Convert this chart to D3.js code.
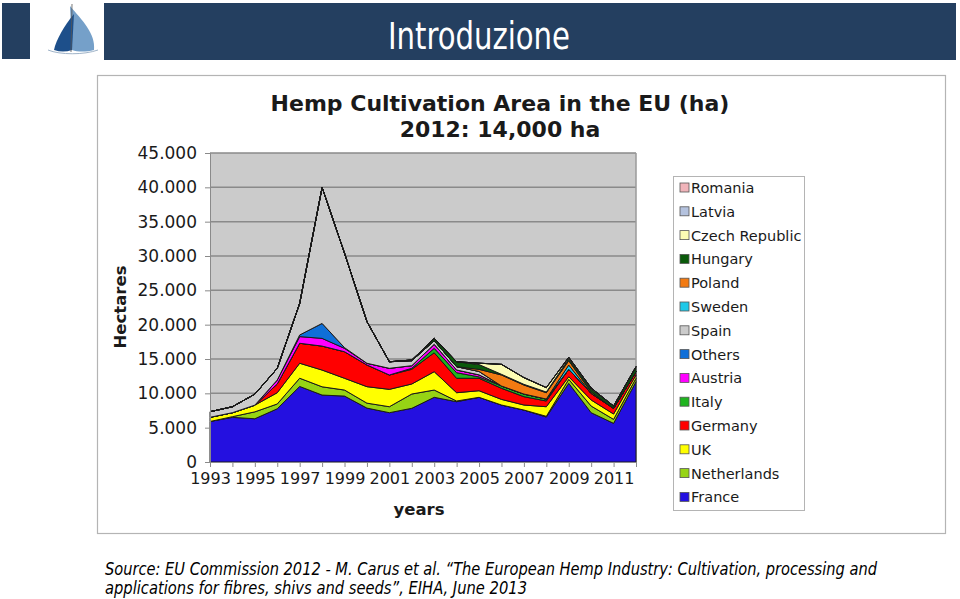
<!DOCTYPE html>
<html>
<head>
<meta charset="utf-8">
<script src="https://cdn.jsdelivr.net/npm/d3@7"></script>
<style>
  html, body { margin: 0; padding: 0; background: #ffffff; }
  svg { display: block; }
</style>
</head>
<body>
<svg id="chart" width="960" height="599"></svg>
<script>
// ---------------- DATA ----------------
const years = [1993,1994,1995,1996,1997,1998,1999,2000,2001,2002,2003,2004,2005,2006,2007,2008,2009,2010,2011,2012];
const france       = [5900,6500,6300,7750,11000,9750,9600,7850,7180,7820,9420,8780,9420,8300,7570,6550,11460,7180,5630,11690];
const netherlands  = [0,100,1000,700,1200,1200,880,720,870,2080,1060,100,0,0,0,100,580,970,580,500];
const uk           = [610,580,980,1640,2180,2440,1710,2400,2530,1460,2670,1210,960,820,730,1400,380,880,780,480];
const germany      = [0,0,0,1270,2910,3490,3870,3160,2090,2140,2760,2100,1810,1610,1210,830,1080,970,830,480];
const italy        = [0,0,0,0,0,0,0,0,0,150,640,810,200,340,390,290,0,0,0,0];
const austria      = [0,0,0,580,970,1120,490,250,970,380,590,400,300,0,0,0,0,0,0,0];
const others       = [0,0,0,0,240,2180,100,0,0,0,0,0,0,0,0,0,0,0,0,0];
const spain        = [810,870,1600,1700,4600,19810,13750,6060,960,720,520,480,500,0,0,0,0,0,0,0];
const sweden       = [0,0,0,0,0,0,0,0,0,0,0,0,0,0,0,0,620,0,0,0];
const poland       = [0,0,0,0,0,0,0,0,0,0,0,0,300,1600,1310,920,630,200,0,0];
const hungary      = [0,0,0,0,0,0,0,0,0,100,340,720,700,100,100,100,300,380,330,730];
const czech        = [0,0,0,0,0,0,0,0,0,0,0,0,200,1450,980,640,200,200,0,0];
const latvia       = [0,0,0,0,0,0,0,0,0,0,0,0,0,0,0,0,0,0,0,0];
const romania      = [0,0,0,0,0,0,0,0,0,0,0,0,0,0,0,0,0,0,0,0];

// stack order (bottom -> top)
const seriesNames  = ["France","Netherlands","UK","Germany","Italy","Austria","Others","Spain","Sweden","Poland","Hungary","Czech Republic","Latvia","Romania"];
const seriesValues = [france,netherlands,uk,germany,italy,austria,others,spain,sweden,poland,hungary,czech,latvia,romania];
const seriesColors = ["#2410e0","#96d414","#ffff00","#ff0000","#1fb41f","#ff00ff","#0f6fd8","#cbcbcb","#1ec8e8","#f27a12","#0b5a0b","#fcfcb4","#b4c2de","#f0b4ba"];

const yTicks      = [0,5000,10000,15000,20000,25000,30000,35000,40000,45000];
const yTickLabels = ["0","5.000","10.000","15.000","20.000","25.000","30.000","35.000","40.000","45.000"];
const xTickLabels = [1993,1995,1997,1999,2001,2003,2005,2007,2009,2011];

const titleText   = "Introduzione";
const chartTitle1 = "Hemp Cultivation Area in the EU (ha)";
const chartTitle2 = "2012: 14,000 ha";
const yAxisTitle  = "Hectares";
const xAxisTitle  = "years";
const sourceLine1 = "Source: EU Commission 2012 - M. Carus et al. \u201CThe European Hemp Industry: Cultivation, processing and";
const sourceLine2 = "applications for fibres, shivs and seeds\u201D, EIHA, June 2013";

// ---------------- DRAW ----------------
const svg = d3.select("#chart");

// header
svg.append("rect").attr("x",2).attr("y",3).attr("width",28).attr("height",56).attr("fill","#243f60");
svg.append("rect").attr("x",104).attr("y",3).attr("width",852).attr("height",57).attr("fill","#243f60");
svg.append("text").attr("x",388).attr("y",49)
  .attr("font-family","'DejaVu Sans Condensed','Liberation Sans Narrow',sans-serif")
  .attr("font-size",37).attr("fill","#ffffff")
  .attr("textLength",182).attr("lengthAdjust","spacingAndGlyphs").text(titleText);

// logo (sail)
const logo = svg.append("g");
logo.append("path").attr("d","M70,6 C82,20 96,34 94,50 C86,52 78,52 72,50 Z").attr("fill","#5d8fbf").attr("opacity",0.85);
logo.append("path").attr("d","M74,14 C64,26 56,40 54,50 C60,52 66,52 72,50 Z").attr("fill","#1d4f8a");
logo.append("path").attr("d","M72,4 L71,52").attr("stroke","#555").attr("stroke-width",0.8);
logo.append("path").attr("d","M48,50 C60,55 84,55 98,50").attr("stroke","#9fb3c8").attr("stroke-width",1).attr("fill","none");

// chart frame
svg.append("rect").attr("x",97.5).attr("y",75.5).attr("width",848).attr("height",458)
  .attr("fill","#ffffff").attr("stroke","#b4b4b4").attr("stroke-width",1.2);

const fontChart = "'DejaVu Sans',Verdana,sans-serif";
svg.append("text").attr("x",500).attr("y",111).attr("text-anchor","middle")
  .attr("font-family",fontChart).attr("font-weight","bold").attr("font-size",22).attr("fill","#1a1a1a").text(chartTitle1);
svg.append("text").attr("x",500).attr("y",137).attr("text-anchor","middle")
  .attr("font-family",fontChart).attr("font-weight","bold").attr("font-size",22).attr("fill","#1a1a1a").text(chartTitle2);

// plot area
const plot = {left:210, right:636, top:153, bottom:462};
const x = d3.scaleLinear().domain([years[0], years[years.length-1]]).range([plot.left, plot.right]);
const y = d3.scaleLinear().domain([0,45000]).range([plot.bottom, plot.top]);

svg.append("rect").attr("x",plot.left).attr("y",plot.top).attr("width",plot.right-plot.left).attr("height",plot.bottom-plot.top)
  .attr("fill","#cbcbcb");

// gridlines
svg.append("g").selectAll("line").data(yTicks.slice(1)).join("line")
  .attr("x1",plot.left).attr("x2",plot.right)
  .attr("y1",d=>y(d)).attr("y2",d=>y(d))
  .attr("stroke","#8a8a8a").attr("stroke-width",1.5);
svg.append("line").attr("x1",plot.right).attr("x2",plot.right).attr("y1",plot.top).attr("y2",plot.bottom)
  .attr("stroke","#9a9a9a").attr("stroke-width",1.5);

// stacked areas
const table = years.map((yr,i)=>{
  const row = {year: yr};
  seriesNames.forEach((n,k)=>{ row[n] = seriesValues[k][i]; });
  return row;
});
const stack = d3.stack().keys(seriesNames);
const layers = stack(table);
const area = d3.area()
  .x(d=>x(d.data.year))
  .y0(d=>y(d[0]))
  .y1(d=>y(d[1]));
svg.append("g").selectAll("path").data(layers).join("path")
  .attr("d",area)
  .attr("fill",(d,i)=>seriesColors[i])
  .attr("stroke","#1a1a1a").attr("stroke-width",1).attr("stroke-linejoin","round");

// axes
const yAxis = d3.axisLeft(y).tickValues(yTicks).tickFormat((d,i)=>yTickLabels[i]).tickSize(5).tickPadding(8);
const gy = svg.append("g").attr("transform",`translate(${plot.left},0)`).call(yAxis);
gy.select(".domain").attr("stroke","#8a8a8a");
gy.selectAll(".tick line").attr("stroke","#8a8a8a");
gy.selectAll("text").attr("font-family",fontChart).attr("font-size",17).attr("fill","#1a1a1a");

const xAxis = d3.axisBottom(x).tickValues(years).tickFormat(d=>xTickLabels.includes(d)?String(d):"").tickSize(5).tickPadding(6);
const gx = svg.append("g").attr("transform",`translate(0,${plot.bottom})`).call(xAxis);
gx.select(".domain").attr("stroke","#8a8a8a");
gx.selectAll(".tick line").attr("stroke","#8a8a8a");
gx.selectAll("text").attr("font-family",fontChart).attr("font-size",16).attr("fill","#1a1a1a");

svg.append("text").attr("transform","translate(126,307) rotate(-90)").attr("text-anchor","middle")
  .attr("font-family",fontChart).attr("font-weight","bold").attr("font-size",16.5).attr("fill","#1a1a1a").text(yAxisTitle);
svg.append("text").attr("x",419).attr("y",515).attr("text-anchor","middle")
  .attr("font-family",fontChart).attr("font-weight","bold").attr("font-size",16.5).attr("fill","#1a1a1a").text(xAxisTitle);

// legend
const legend = svg.append("g");
legend.append("rect").attr("x",673.5).attr("y",176.5).attr("width",131).attr("height",334)
  .attr("fill","#ffffff").attr("stroke","#b4b4b4").attr("stroke-width",1);
const legendOrder = seriesNames.map((n,i)=>i).reverse();
const li = legend.selectAll("g.item").data(legendOrder).join("g").attr("class","item")
  .attr("transform",(d,k)=>`translate(680,${188 + k*23.8})`);
li.append("rect").attr("x",0).attr("y",-5).attr("width",9).attr("height",9)
  .attr("fill",d=>seriesColors[d]).attr("stroke","#555").attr("stroke-width",0.8);
li.append("text").attr("x",11).attr("y",5).attr("font-family",fontChart).attr("font-size",14.5).attr("fill","#1a1a1a")
  .text(d=>seriesNames[d]);

// source
const fontSrc = "'DejaVu Sans Condensed','Liberation Sans Narrow',sans-serif";
svg.append("text").attr("x",105).attr("y",575).attr("font-family",fontSrc).attr("font-style","italic")
  .attr("font-size",17).attr("fill","#000").attr("textLength",772).attr("lengthAdjust","spacingAndGlyphs").text(sourceLine1);
svg.append("text").attr("x",105).attr("y",594).attr("font-family",fontSrc).attr("font-style","italic")
  .attr("font-size",17).attr("fill","#000").attr("textLength",422).attr("lengthAdjust","spacingAndGlyphs").text(sourceLine2);
</script>
</body>
</html>
